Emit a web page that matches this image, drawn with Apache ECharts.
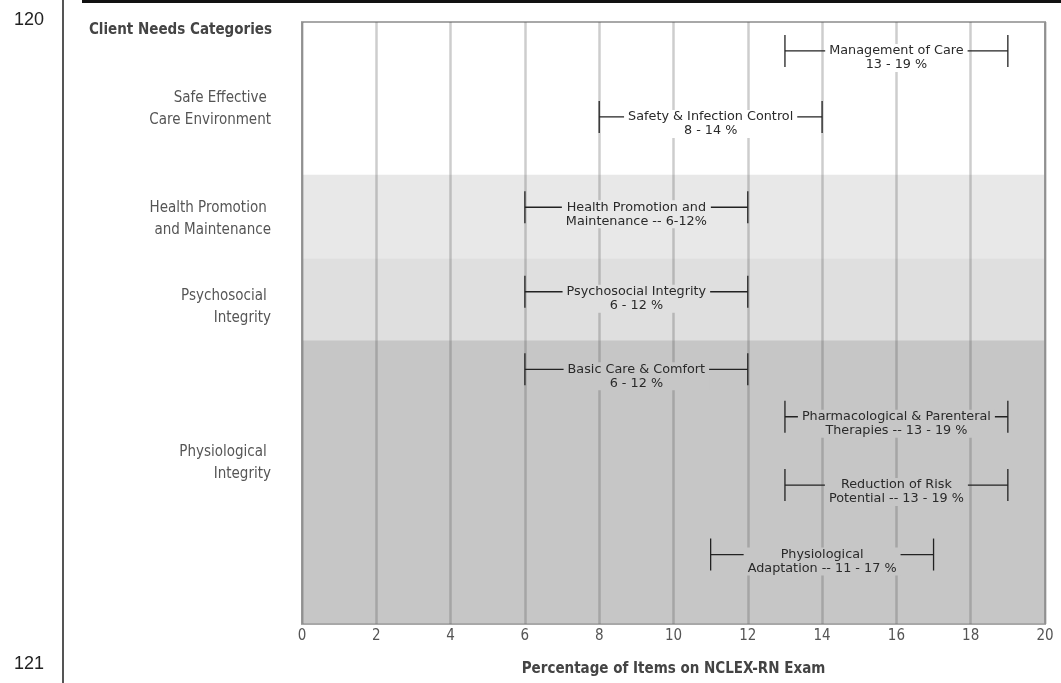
<!DOCTYPE html>
<html><head><meta charset="utf-8">
<script src="https://cdn.jsdelivr.net/npm/echarts@6/dist/echarts.min.js"></script>
<style>html,body{margin:0;padding:0;background:#fff}#c{width:1061px;height:683px}</style>
</head><body><div id="c"></div>
<script>
// ---- data ----
const xTicks = [0, 2, 4, 6, 8, 10, 12, 14, 16, 18, 20];
const groupNames = ['Safe Effective \nCare Environment', 'Health Promotion \nand Maintenance', 'Psychosocial \nIntegrity', 'Physiological \nIntegrity'];
const groupStart = [0, 6.6, 10.2, 13.75];
const groupEnd = [6.6, 10.2, 13.75, 26];
const groupLabelRow = [3.75, 8.5, 12.3, 19.05];
const itemNames = [
  'Management of Care\n13 - 19 %',
  'Safety & Infection Control\n8 - 14 %',
  'Health Promotion and\nMaintenance -- 6-12%',
  'Psychosocial Integrity\n6 - 12 %',
  'Basic Care & Comfort\n6 - 12 %',
  'Pharmacological & Parenteral\nTherapies -- 13 - 19 %',
  'Reduction of Risk\nPotential -- 13 - 19 %',
  'Physiological\nAdaptation -- 11 - 17 %'
];
const itemLow = [13, 8, 6, 6, 6, 13, 13, 11];
const itemHigh = [19, 14, 12, 12, 12, 19, 19, 17];
const itemRow = [1.25, 4.1, 8, 11.65, 15, 17.05, 20, 23];

// ---- styles ----
const bandColors = ['#ffffff', '#e8e8e8', '#dfdfdf', '#c6c6c6'];
const narrow = '"Liberation Sans Narrow", "DejaVu Sans Condensed", "Arial Narrow", sans-serif';
const rowMax = 26;

function bandColorFor(row) {
  for (let i = 0; i < groupStart.length; i++) {
    if (row >= groupStart[i] && row < groupEnd[i]) return bandColors[i];
  }
  return '#fff';
}

const chart = echarts.init(document.getElementById('c'), null, {renderer: 'canvas'});
chart.setOption({
  animation: false,
  grid: {left: 302, right: 16, top: 22, bottom: 59, show: true, borderColor: '#a8a8a8', borderWidth: 2, backgroundColor: 'transparent'},
  xAxis: {
    type: 'value', min: xTicks[0], max: xTicks[xTicks.length - 1], interval: 2,
    axisLine: {show: false}, axisTick: {show: false},
    axisLabel: {color: '#555', fontSize: 15, fontFamily: narrow, margin: 5},
    splitLine: {show: true, lineStyle: {color: 'rgba(90,90,90,0.3)', width: 2.5}},
    name: 'Percentage of Items on NCLEX-RN Exam', nameLocation: 'middle', nameGap: 38,
    nameTextStyle: {color: '#444', fontSize: 15, fontWeight: 'bold', fontFamily: narrow}
  },
  yAxis: {type: 'value', inverse: true, min: 0, max: rowMax, show: false, splitLine: {show: false}},
  graphic: [
    {type: 'rect', shape: {x: 82, y: 0, width: 979, height: 3}, style: {fill: '#111'}},
    {type: 'line', shape: {x1: 63, y1: 0, x2: 63, y2: 683}, style: {stroke: '#555', lineWidth: 2}},
    {type: 'text', x: 14, y: 11, style: {text: '120', font: '18px "Liberation Sans", Arial, sans-serif', fill: '#222'}},
    {type: 'text', x: 14, y: 655, style: {text: '121', font: '18px "Liberation Sans", Arial, sans-serif', fill: '#222'}},
    {type: 'text', x: 272, y: 30, style: {text: 'Client Needs Categories', align: 'right', verticalAlign: 'middle', font: 'bold 15px ' + narrow, fill: '#444'}}
  ],
  series: [
    {
      type: 'custom', z: -1, silent: true,
      data: groupStart.map((s, i) => [s, groupEnd[i], groupLabelRow[i]]),
      renderItem: function (params, api) {
        const i = params.dataIndex;
        const p0 = api.coord([xTicks[0], api.value(0)]);
        const p1 = api.coord([xTicks[xTicks.length - 1], api.value(1)]);
        const lab = api.coord([xTicks[0], api.value(2)]);
        return {type: 'group', children: [
          {type: 'rect', shape: {x: p0[0], y: p0[1], width: p1[0] - p0[0], height: p1[1] - p0[1]}, style: {fill: bandColors[i]}},
          {type: 'text', x: lab[0] - 31, y: lab[1], style: {text: groupNames[i], align: 'right', verticalAlign: 'middle', font: '15px ' + narrow, fill: '#555', lineHeight: 22}}
        ]};
      }
    },
    {
      type: 'custom', z: 3, silent: true,
      data: itemLow.map((l, i) => [l, itemHigh[i], itemRow[i]]),
      renderItem: function (params, api) {
        const i = params.dataIndex;
        const row = api.value(2);
        const a = api.coord([api.value(0), row]);
        const b = api.coord([api.value(1), row]);
        const mid = (a[0] + b[0]) / 2;
        const cap = 16, lh = 14;
        const stroke = {stroke: '#222', lineWidth: 1.3};
        return {type: 'group', children: [
          {type: 'line', shape: {x1: a[0], y1: a[1], x2: b[0], y2: b[1]}, style: stroke},
          {type: 'line', shape: {x1: a[0], y1: a[1] - cap, x2: a[0], y2: a[1] + cap}, style: stroke},
          {type: 'line', shape: {x1: b[0], y1: b[1] - cap, x2: b[0], y2: b[1] + cap}, style: stroke},
          {type: 'text', x: mid, y: a[1] - lh / 2, style: {
            text: itemNames[i], align: 'center', verticalAlign: 'top', lineHeight: lh,
            font: '12.8px "DejaVu Sans", Verdana, sans-serif', fill: '#2a2a2a',
            backgroundColor: bandColorFor(row), padding: [0, 4]
          }}
        ]};
      }
    }
  ]
});
</script>
</body></html>
